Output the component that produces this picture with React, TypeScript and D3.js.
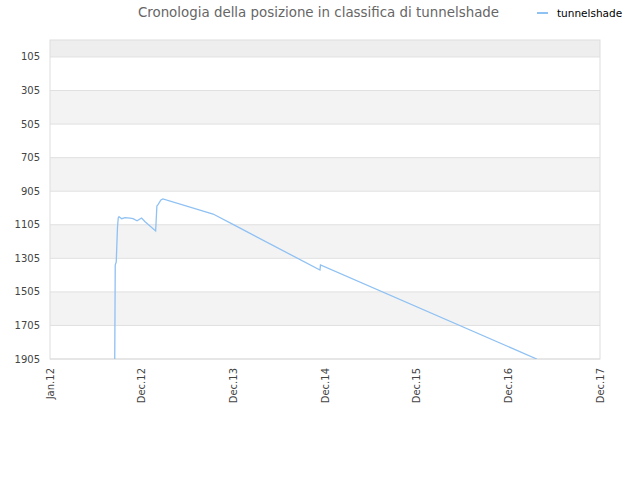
import React from 'react';
import * as d3 from 'd3';

// ranking history (lower rank = better, axis reversed)
const dates = [
  '2012-08-15', '2012-08-16', '2012-08-17', '2012-08-21', '2012-08-26', '2012-08-29',
  '2012-09-01', '2012-09-12', '2012-09-25', '2012-10-15', '2012-10-27', '2012-11-12',
  '2012-11-30', '2012-12-14', '2013-01-25', '2013-01-30', '2013-02-03', '2013-02-15',
  '2013-02-23', '2013-09-11', '2013-12-03', '2014-11-11', '2014-11-13', '2017-03-24',
];
const ranks = [
  1905, 1631, 1345, 1327, 1118, 1065,
  1057, 1069, 1062, 1065, 1069, 1081,
  1065, 1087, 1142, 993, 987, 957,
  951, 1041, 1106, 1375, 1345, 1905,
];

const yTicks = [105, 305, 505, 705, 905, 1105, 1305, 1505, 1705, 1905];
const xTickDates = ['2011-12-01', '2012-12-01', '2013-12-01', '2014-12-01', '2015-12-01', '2016-12-01', '2017-12-01'];
const xTickLabels = ['Jan.12', 'Dec.12', 'Dec.13', 'Dec.14', 'Dec.15', 'Dec.16', 'Dec.17'];

const title = 'Cronologia della posizione in classifica di tunnelshade';
const seriesName = 'tunnelshade';

export default function App() {
  const width = 640;
  const height = 480;
  const margin = { top: 40, right: 40, bottom: 121, left: 50 };
  const font = '"DejaVu Sans", sans-serif';
  const lineColor = '#8fc1f3';

  const parse = d3.utcParse('%Y-%m-%d');
  const x = d3.scaleUtc()
    .domain([parse(xTickDates[0])!, parse(xTickDates[xTickDates.length - 1])!])
    .range([margin.left, width - margin.right]);
  const y = d3.scaleLinear()
    .domain([4, 1905])
    .range([margin.top, height - margin.bottom]);

  const points = dates.map((d, i) => ({ date: parse(d)!, rank: ranks[i] }));
  const line = d3.line<{ date: Date; rank: number }>()
    .x(d => x(d.date))
    .y(d => y(d.rank));

  // band edges: top of plot, then each tick
  const edges = [y.domain()[0], ...yTicks];
  const bands = edges.slice(0, -1).map((v, i) => ({ from: v, to: edges[i + 1], i }));

  const x0 = margin.left;
  const x1 = width - margin.right;
  const yTop = margin.top;
  const yBottom = height - margin.bottom;

  return (
    <div style={{ position: 'absolute', left: 0, top: 0 }}>
      <svg width={width} height={height} style={{ display: 'block', background: '#fff' }} fontFamily={font}>
        <defs>
          <clipPath id="plot-clip">
            <rect x={x0} y={yTop} width={x1 - x0} height={yBottom - yTop} />
          </clipPath>
        </defs>

        <text x={318.5} y={17} textAnchor="middle" fontSize={13.4} fill="#666">{title}</text>

        {/* legend */}
        <line x1={537} x2={548} y1={13} y2={13} stroke={lineColor} strokeWidth={2} />
        <text x={557} y={16.5} fontSize={10.5} fill="#000">{seriesName}</text>

        {/* alternating bands */}
        {bands.map(b => (
          <rect
            key={b.i}
            x={x0}
            y={y(b.from)}
            width={x1 - x0}
            height={y(b.to) - y(b.from)}
            fill={b.i === 0 ? '#eeeeee' : b.i % 2 === 0 ? '#f3f3f3' : '#ffffff'}
          />
        ))}

        {/* grid lines */}
        {yTicks.map(t => (
          <line key={t} x1={x0} x2={x1} y1={y(t)} y2={y(t)} stroke="#e0e0e0" strokeWidth={1} />
        ))}

        {/* plot border */}
        <rect x={x0} y={yTop} width={x1 - x0} height={yBottom - yTop} fill="none" stroke="#dddddd" strokeWidth={1} />

        <path d={line(points) ?? ''} fill="none" stroke={lineColor} strokeWidth={1.3} clipPath="url(#plot-clip)" />

        {/* y axis labels */}
        {yTicks.map(t => (
          <text key={t} x={40} y={y(t)} dy="0.35em" textAnchor="end" fontSize={10} fill="#444">{t}</text>
        ))}

        {/* x axis labels */}
        {xTickDates.map((d, i) => {
          const px = x(parse(d)!);
          return (
            <text
              key={d}
              transform={`translate(${px + 3.5},${yBottom + 9}) rotate(-90)`}
              textAnchor="end"
              fontSize={10}
              fill="#444"
            >
              {xTickLabels[i]}
            </text>
          );
        })}
      </svg>
    </div>
  );
}
